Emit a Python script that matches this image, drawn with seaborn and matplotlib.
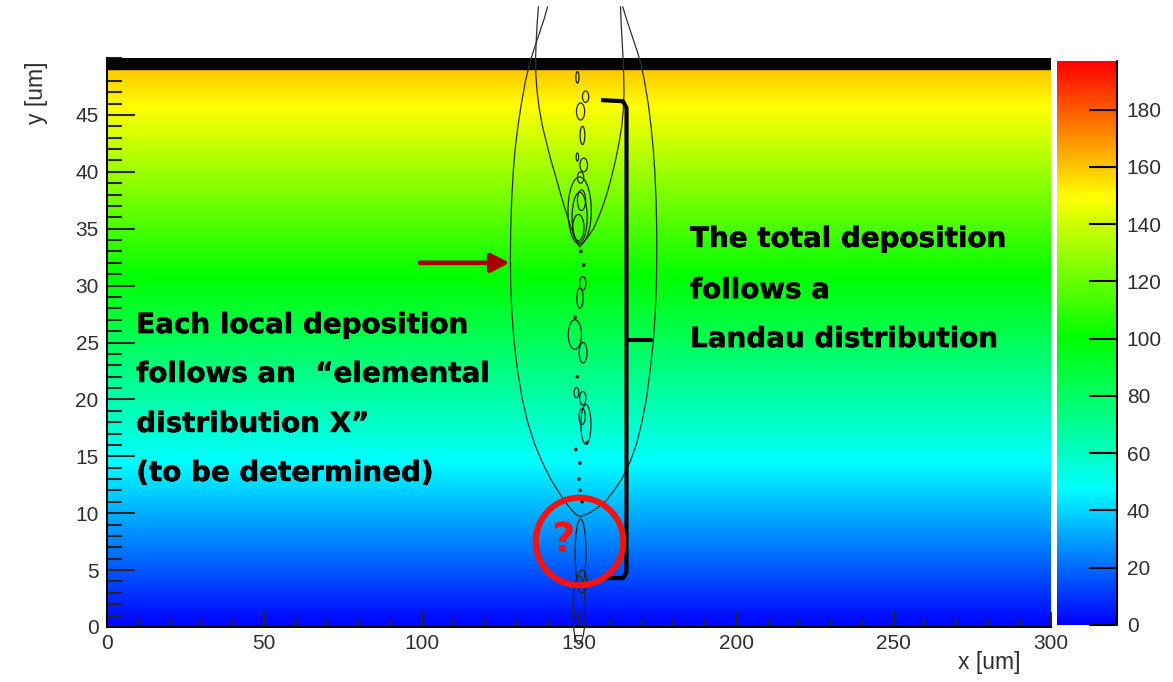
import numpy as np
import matplotlib
matplotlib.use("Agg")
import matplotlib.pyplot as plt
import matplotlib.patheffects as pe
import seaborn as sns
from matplotlib.colors import LinearSegmentedColormap, Normalize
from matplotlib.cm import ScalarMappable
from matplotlib.patches import Ellipse
from matplotlib.ticker import MultipleLocator

# ---------------- data ----------------
# deposited energy per 1 um depth row (rows centred at 0.5 ... 48.5 um)
row_energy = [1.6, 4.9, 8.2, 11.4, 14.7, 18.0, 21.3, 24.5, 27.8, 31.1,
              34.3, 37.6, 40.9, 44.1, 47.4, 50.7, 54.0, 57.2, 60.5, 63.8,
              67.0, 70.3, 73.6, 76.8, 80.1, 83.4, 86.7, 89.9, 93.2, 96.5,
              99.7, 103.0, 106.3, 109.5, 112.8, 116.1, 119.4, 122.6, 125.9, 129.2,
              132.4, 135.7, 139.0, 142.2, 145.5, 148.8, 152.1, 155.3, 158.6]

# outer iso-contour of the charge cloud (y, left x, right x)
outer_y  = [54.5, 53.5, 52.5, 51.5, 50.5, 49.5, 48.0, 46.0, 44.0, 42.0, 40.0, 37.5, 35.0,
            32.5, 30.0, 27.5, 25.0, 22.5, 20.0, 18.0, 16.0, 14.5, 13.0, 12.0, 11.0, 10.3, 9.9, 9.7]
outer_xl = [140.0, 139.0, 137.8, 136.6, 135.4, 134.3, 133.0, 131.7, 130.6, 129.7, 129.1, 128.6, 128.3,
            128.2, 128.3, 128.7, 129.4, 130.5, 132.0, 133.7, 136.0, 138.3, 141.0, 143.2, 145.6, 147.6, 149.0, 150.3]
outer_xr = [163.9, 165.0, 166.2, 167.4, 168.6, 169.7, 170.8, 172.0, 172.9, 173.6, 174.1, 174.5, 174.7,
            174.7, 174.6, 174.2, 173.6, 172.6, 171.4, 170.0, 168.2, 166.2, 163.6, 161.2, 158.3, 155.0, 152.5, 150.3]

# inner iso-contour (y, left x, right x)
inner_y  = [54.5, 53.0, 51.5, 50.0, 48.5, 47.0, 45.5, 44.0, 42.5, 41.0, 39.5, 38.0,
            37.0, 36.0, 35.0, 34.2, 33.7, 33.4]
inner_xl = [137.1, 136.7, 136.4, 136.2, 136.3, 136.7, 137.4, 138.4, 139.7, 141.1, 142.7, 144.2,
            145.3, 146.4, 147.6, 148.7, 149.5, 150.2]
inner_xr = [163.2, 163.4, 163.7, 164.0, 164.2, 164.3, 164.1, 163.6, 162.7, 161.6, 160.3, 158.8,
            157.6, 156.2, 154.6, 152.6, 151.2, 150.2]

# local deposition clusters along the track: centre x, centre y, width, height [um]
clu_x = [149.5, 152.1, 150.5, 151.1, 149.5, 151.5, 150.5, 150.2, 150.8, 149.8, 150.2,
         151.2, 150.3, 148.7, 151.3, 149.2, 151.2, 151.0, 152.2, 150.5, 150.0, 151.0]
clu_y = [48.3, 46.6, 45.3, 43.2, 41.3, 40.6, 39.5, 36.6, 37.5, 35.1, 36.0,
         30.2, 28.9, 25.7, 24.1, 20.6, 20.1, 18.5, 17.8, 6.5, 1.5, 4.0]
clu_w = [1.0, 2.0, 2.6, 1.5, 0.8, 2.4, 2.0, 7.4, 2.6, 3.6, 4.8,
         2.0, 2.0, 4.2, 2.5, 1.5, 2.0, 2.0, 3.2, 3.5, 4.0, 3.0]
clu_h = [1.0, 1.0, 1.5, 1.6, 0.7, 1.2, 1.0, 5.9, 1.8, 2.3, 4.4,
         1.2, 1.8, 2.6, 1.8, 0.9, 1.2, 1.4, 3.5, 6.0, 6.0, 2.0]

# isolated single deposits
dot_x = [151.5, 149.5, 152.5, 149.0, 150.3, 150.0, 150.4, 151.0, 148.8, 150.6]
dot_y = [31.8, 22.0, 16.2, 15.6, 14.4, 13.0, 12.0, 11.0, 27.2, 33.0]

# colour scale
cbar_max = 197.0
cbar_ticks = [0, 20, 40, 60, 80, 100, 120, 140, 160, 180]
x_ticks = [0, 50, 100, 150, 200, 250, 300]
y_ticks = [0, 5, 10, 15, 20, 25, 30, 35, 40, 45]

left_text = ["Each local deposition", "follows an  \u201celemental",
             "distribution X\u201d", "(to be determined)"]
right_text = ["The total deposition", "follows a", "Landau distribution"]

# ---------------- style ----------------
sns.set_theme(style="ticks")
plt.rcParams["font.family"] = ["Liberation Sans", "DejaVu Sans"]
plt.rcParams["axes.linewidth"] = 1.4

rainbow = LinearSegmentedColormap.from_list(
    "root_rainbow",
    [(0.00, "#0000ff"), (0.24, "#00ffff"), (0.51, "#00ff00"),
     (0.76, "#ffff00"), (1.00, "#ff0000")])
norm = Normalize(0, cbar_max)

W, H = 1173, 682
fig = plt.figure(figsize=(W / 100, H / 100), dpi=100)
ax = fig.add_axes([107 / W, 1 - 627 / H, (1051 - 107) / W, (627 - 58) / H])
cax = fig.add_axes([1057 / W, 1 - 625 / H, 60 / W, (625 - 61) / H])

# energy map
grid = np.column_stack([row_energy, row_energy])
ax.imshow(grid, origin="lower", extent=(0, 300, 0, len(row_energy)),
          cmap=rainbow, norm=norm, aspect="auto", interpolation="bilinear", zorder=0)
ax.axhspan(49, 50, color="black", zorder=1)

ax.set_xlim(0, 300)
ax.set_ylim(0, 50)

# contour lines
line_kw = dict(color="#2a332a", lw=0.9, clip_on=False, zorder=3)
for ys, xl, xr in [(outer_y, outer_xl, outer_xr), (inner_y, inner_xl, inner_xr)]:
    sns.lineplot(x=xl + xr[::-1], y=ys + ys[::-1], sort=False, estimator=None,
                 ax=ax, **line_kw)

for cx, cy, w, h in zip(clu_x, clu_y, clu_w, clu_h):
    ax.add_patch(Ellipse((cx, cy), w, h, fill=False, edgecolor="#1f2a1f",
                         lw=0.9, clip_on=False, zorder=3))

sns.scatterplot(x=dot_x, y=dot_y, ax=ax, s=7, color="#1f2a1f",
                edgecolor="none", zorder=3, legend=False)

# axes ticks
ax.set_xticks(x_ticks)
ax.set_yticks(y_ticks)
ax.xaxis.set_minor_locator(MultipleLocator(10))
ax.yaxis.set_minor_locator(MultipleLocator(1))
ax.tick_params(axis="y", which="major", direction="in", length=20, width=1.5,
               labelsize=15, labelcolor="#2e2e2e", pad=6, left=True, right=False)
ax.tick_params(axis="y", which="minor", direction="in", length=11, width=1.5,
               left=True, right=False)
ax.tick_params(axis="x", which="major", direction="in", length=11, width=1.5,
               labelsize=15, labelcolor="#2e2e2e", pad=5, bottom=True, top=False)
ax.tick_params(axis="x", which="minor", direction="in", length=6, width=1.5,
               bottom=True, top=False)
for s in ["top", "right"]:
    ax.spines[s].set_visible(False)
ax.spines["left"].set_color("black")
ax.spines["bottom"].set_color("black")
ax.spines["left"].set_zorder(4)

fig.text(1020 / W, 1 - 662 / H, "x [um]", ha="right", va="center",
         fontsize=16.5, color="#2e2e2e")
fig.text(36 / W, 1 - 62 / H, "y [um]", ha="center", va="top", rotation=90,
         fontsize=16.5, color="#2e2e2e")

# colour bar
sm = ScalarMappable(norm=norm, cmap=rainbow)
cb = fig.colorbar(sm, cax=cax)
cb.outline.set_visible(False)
cb.set_ticks(cbar_ticks)
cax.set_axisbelow(False)
cax.tick_params(axis="y", direction="in", length=20, width=1.5, labelsize=15,
                labelcolor="#2e2e2e", color="black", pad=7, right=True, left=False,
                labelright=True, labelleft=False)
cax.axvline(1, color="black", lw=1.5, clip_on=False)

# annotations
bold_fx = [pe.withStroke(linewidth=0.35, foreground="black")]
txt_kw = dict(fontsize=20, fontweight="bold", color="black",
              family=["DejaVu Sans"], va="baseline", ha="left", zorder=5,
              path_effects=bold_fx)
for line, yb in zip(left_text, [25.83, 21.53, 17.14, 12.83]):
    ax.text(9.3, yb, line, **txt_kw)
for line, yb in zip(right_text, [33.4, 28.9, 24.6]):
    ax.text(185.3, yb, line, **txt_kw)

# bracket around the whole track
ax.plot([157.0, 164.0, 165.1, 165.1, 164.0, 156.9],
        [46.3, 46.2, 45.6, 4.8, 4.3, 4.3],
        color="black", lw=3.0, solid_joinstyle="round", solid_capstyle="butt", zorder=5)
ax.plot([165.1, 172.8], [25.2, 25.2], color="black", lw=3.0,
        solid_capstyle="round", zorder=5)

# arrow pointing at the outer contour
ax.annotate("", xy=(128.0, 32.0), xytext=(99.5, 32.0),
            arrowprops=dict(arrowstyle="-|>,head_length=0.55,head_width=0.28",
                            color="#a80000", lw=3.4, mutation_scale=20,
                            shrinkA=0, shrinkB=0), zorder=5)

# question mark on the first deposition
ax.plot([149.9], [7.55], marker="o", markersize=63, markerfacecolor="none",
        markeredgecolor="#f01414", markeredgewidth=4.4, zorder=6, clip_on=False)
ax.text(144.8, 7.6, "?", fontsize=29, fontweight="bold", color="#f01414",
        ha="center", va="center", family=["DejaVu Sans"], zorder=6)

fig.savefig("out.png", dpi=100, facecolor="white")
